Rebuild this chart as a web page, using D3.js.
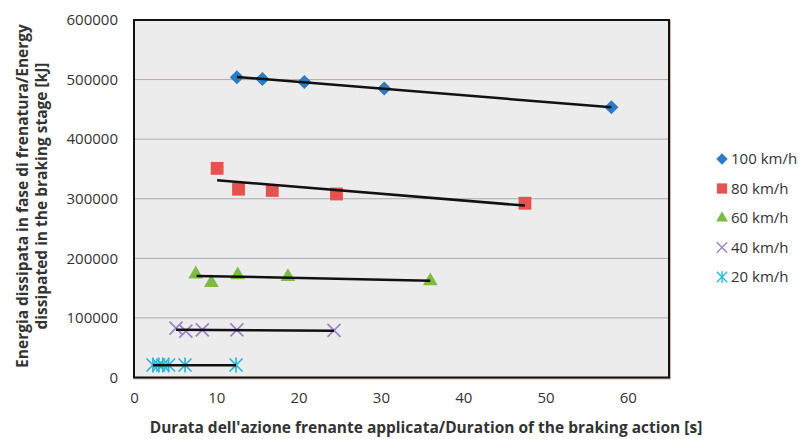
<!DOCTYPE html>
<html>
<head>
<meta charset="utf-8">
<script src="https://cdn.jsdelivr.net/npm/d3@7"></script>
<style>
  body { margin: 0; background: #fff; }
  text { font-family: "Open Sans", sans-serif; fill: #333; }
</style>
</head>
<body>
<svg id="chart" width="801" height="439"></svg>
<script>
// Data
const speeds = ["100 km/h", "80 km/h", "60 km/h", "40 km/h", "20 km/h"];
const colors = ["#2b7cc4", "#e5524f", "#7dbb45", "#9b82c6", "#2bb8d8"];
const shapes = ["diamond", "square", "triangle", "x", "star"];

const t100 = [12.5, 15.6, 20.7, 30.4, 58.0];
const e100 = [504000, 501000, 496000, 485000, 453500];
const t80 = [10.1, 12.7, 16.8, 24.6, 47.5];
const e80 = [351000, 316000, 314000, 308000, 292500];
const t60 = [7.5, 9.4, 12.6, 18.7, 36.0];
const e60 = [173500, 159000, 172000, 169000, 162000];
const t40 = [5.1, 6.3, 8.3, 12.5, 24.3];
const e40 = [83000, 78000, 80000, 80000, 79000];
const t20 = [2.3, 3.0, 3.5, 4.2, 6.2, 12.4];
const e20 = [21000, 21000, 21000, 21000, 21000, 21000];

// trend line end points (start, end)
const trendT = [[12.5, 58.0], [10.1, 47.5], [7.6, 36.0], [5.1, 24.3], [2.3, 12.4]];
const trendE = [[504500, 453500], [331000, 288500], [170500, 162500], [80000, 78500], [20500, 20500]];

const xTicks = [0, 10, 20, 30, 40, 50, 60];
const yTicks = [0, 100000, 200000, 300000, 400000, 500000, 600000];

const times = [t100, t80, t60, t40, t20];
const energies = [e100, e80, e60, e40, e20];

const svg = d3.select("#chart");
const margin = { left: 134, top: 20, right: 669, bottom: 377.5 };

const x = d3.scaleLinear().domain([0, 65]).range([margin.left, margin.right]);
const y = d3.scaleLinear().domain([0, 600000]).range([margin.bottom, margin.top]);

// plot background
svg.append("rect")
    .attr("x", margin.left + 1).attr("y", margin.top + 1)
    .attr("width", margin.right - margin.left).attr("height", margin.bottom - margin.top)
    .attr("fill", "none").attr("stroke", "#d9b3aa").attr("stroke-width", 2);
svg.append("rect")
    .attr("x", margin.left).attr("y", margin.top)
    .attr("width", margin.right - margin.left).attr("height", margin.bottom - margin.top)
    .attr("fill", "#ececec");

// gridlines
svg.append("g")
    .selectAll("line")
    .data(yTicks.slice(1, -1))
    .enter().append("line")
    .attr("x1", margin.left).attr("x2", margin.right)
    .attr("y1", d => y(d)).attr("y2", d => y(d))
    .attr("stroke", (d, i) => i === 4 ? "#c0a59c" : "#a7adb2")
    .attr("stroke-width", 1);

// axis labels (Excel style, no tick marks)
const xAxis = d3.axisBottom(x).tickValues(xTicks).tickSize(0).tickPadding(15);
svg.append("g")
    .attr("transform", `translate(0,${margin.bottom})`)
    .call(xAxis)
    .call(g => g.select(".domain").remove())
    .selectAll("text")
    .style("font-size", "15px")
    .attr("fill", "#2a2a2a");

const yAxis = d3.axisLeft(y).tickValues(yTicks).tickSize(0).tickPadding(16)
    .tickFormat(d3.format("d"));
svg.append("g")
    .attr("transform", `translate(${margin.left},0)`)
    .call(yAxis)
    .call(g => g.select(".domain").remove())
    .selectAll("text")
    .style("font-size", "15px")
    .attr("fill", "#2a2a2a");

// frame
svg.append("rect")
    .attr("x", margin.left).attr("y", margin.top)
    .attr("width", margin.right - margin.left).attr("height", margin.bottom - margin.top)
    .attr("fill", "none").attr("stroke", "#111").attr("stroke-width", 2);

// marker drawing
function marker(sel, shape, color) {
    if (shape === "diamond") {
        sel.append("path").attr("d", d3.symbol(d3.symbolSquare, 100)())
            .attr("transform", "rotate(45)").attr("fill", color);
    } else if (shape === "square") {
        sel.append("path").attr("d", d3.symbol(d3.symbolSquare, 165)()).attr("fill", color);
    } else if (shape === "triangle") {
        sel.append("path").attr("d", d3.symbol(d3.symbolTriangle, 95)()).attr("fill", color);
    } else if (shape === "x") {
        sel.append("path").attr("d", "M-6.5,-6.5L6.5,6.5M-6.5,6.5L6.5,-6.5")
            .attr("stroke", color).attr("stroke-width", 1.7).attr("fill", "none");
    } else {
        sel.append("path").attr("d", "M-6.5,-6.5L6.5,6.5M-6.5,6.5L6.5,-6.5M0,-7.5L0,7.5")
            .attr("stroke", color).attr("stroke-width", 1.7).attr("fill", "none");
    }
}

// points
speeds.forEach((s, i) => {
    const pts = times[i].map((t, j) => ({ t: t, e: energies[i][j] }));
    svg.append("g")
        .selectAll("g")
        .data(pts)
        .enter().append("g")
        .attr("transform", d => `translate(${x(d.t)},${y(d.e)})`)
        .each(function () { marker(d3.select(this), shapes[i], colors[i]); });
});

// trend lines
svg.append("g")
    .selectAll("line")
    .data(speeds.map((s, i) => i))
    .enter().append("line")
    .attr("x1", i => x(trendT[i][0])).attr("y1", i => y(trendE[i][0]))
    .attr("x2", i => x(trendT[i][1])).attr("y2", i => y(trendE[i][1]))
    .attr("stroke", "#111").attr("stroke-width", 2.5);

// legend
const legend = svg.append("g")
    .selectAll("g")
    .data(speeds)
    .enter().append("g")
    .attr("transform", (d, i) => `translate(722,${159 + i * 29.5})`);
legend.each(function (d, i) {
    const g = d3.select(this);
    const m = g.append("g").attr("transform", "scale(0.8)");
    marker(m, shapes[i], colors[i]);
    g.append("text").attr("x", 9).attr("dy", "0.35em")
        .style("font-size", "15px").attr("fill", "#2a2a2a").text(d);
});

// axis titles
svg.append("text")
    .attr("x", 426).attr("y", 433)
    .attr("text-anchor", "middle")
    .style("font-size", "15.5px").style("font-weight", "bold").attr("fill", "#111")
    .text("Durata dell'azione frenante applicata/Duration of the braking action [s]");

const yTitle = svg.append("text")
    .attr("transform", "translate(0,196) rotate(-90)")
    .attr("text-anchor", "middle")
    .style("font-size", "15.5px").style("font-weight", "bold").attr("fill", "#111");
yTitle.append("tspan").attr("x", 0).attr("y", 28)
    .text("Energia dissipata in fase di frenatura/Energy");
yTitle.append("tspan").attr("x", 0).attr("y", 47)
    .text("dissipated in the braking stage [kJ]");
</script>
</body>
</html>
